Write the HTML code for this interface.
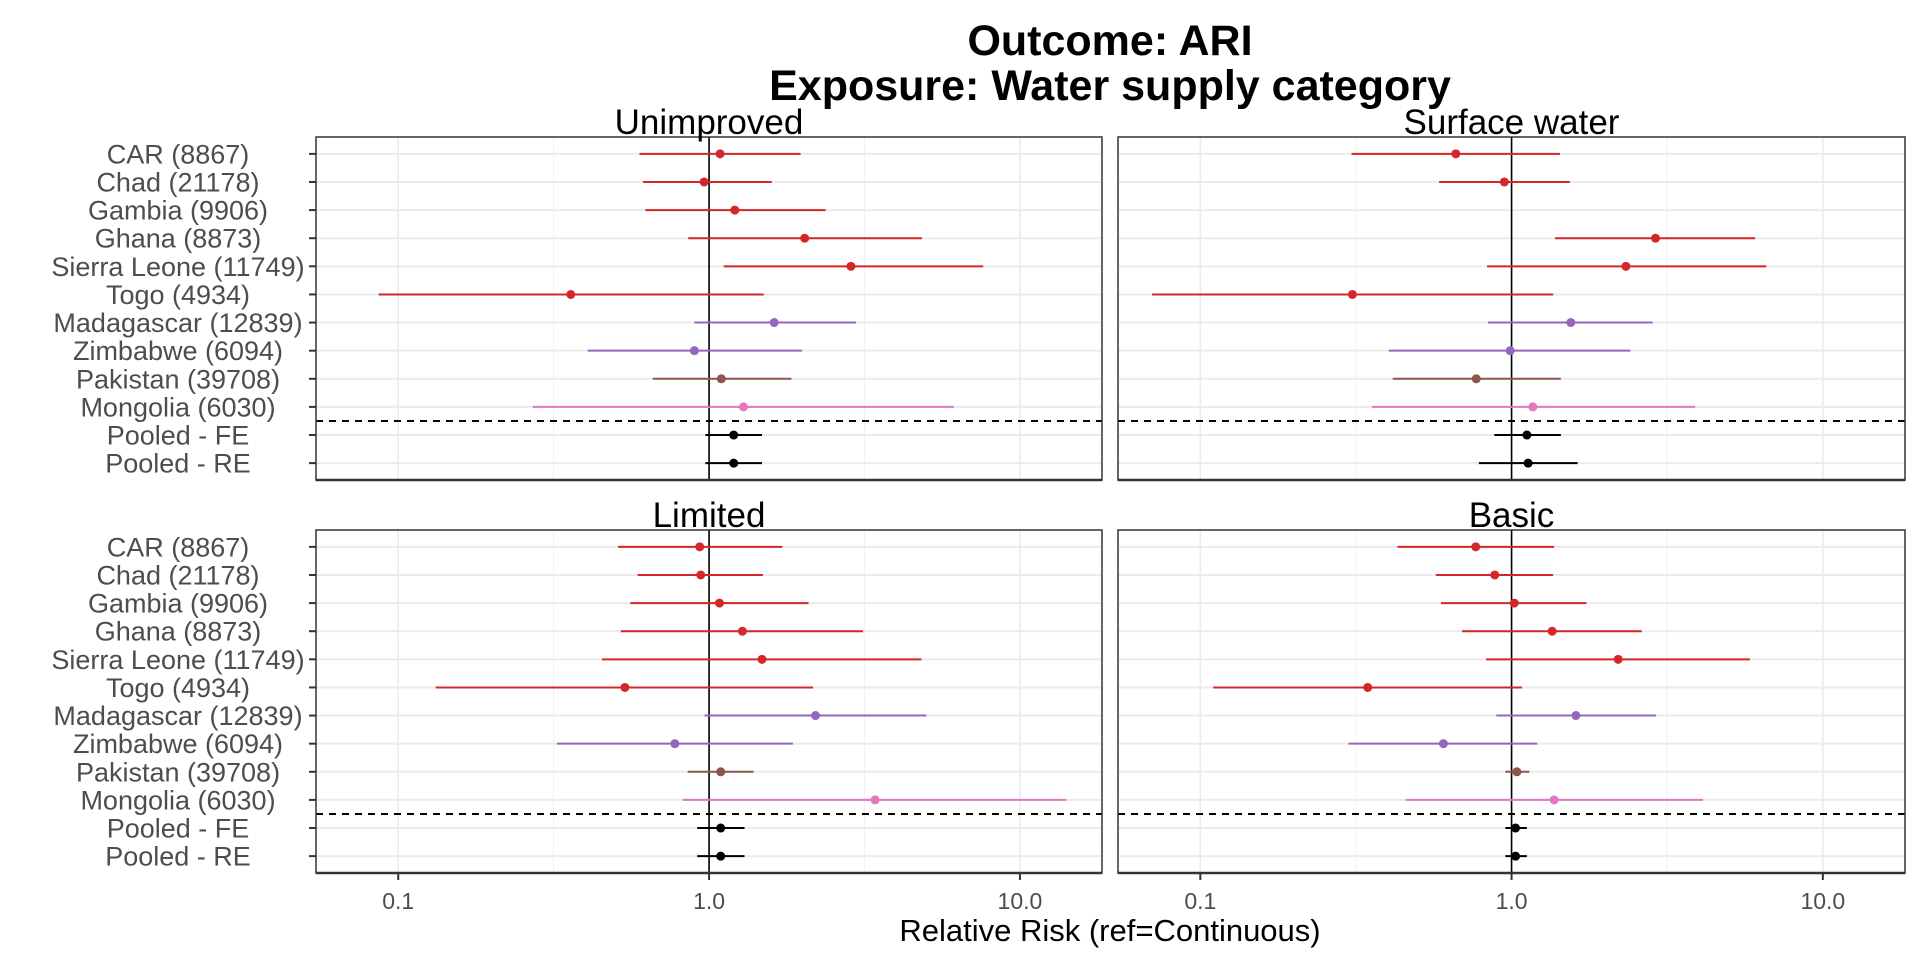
<!DOCTYPE html>
<html><head><meta charset="utf-8"><style>
html,body{margin:0;padding:0;background:#fff;}
svg{display:block;font-family:"Liberation Sans",Arial,sans-serif;}
</style></head><body>
<svg id="chart" width="1920" height="960" viewBox="0 0 1920 960">
<rect width="1920" height="960" fill="#fff"/>
<text x="1110" y="55" text-anchor="middle" font-size="43" font-weight="bold" fill="#000">Outcome: ARI</text>
<text x="1110" y="100" text-anchor="middle" font-size="43" font-weight="bold" fill="#000">Exposure: Water supply category</text>
<text x="1110" y="941" text-anchor="middle" font-size="31" fill="#000">Relative Risk (ref=Continuous)</text>
<g id="plots"></g>
</svg>
<script>
const categories = ["CAR (8867)","Chad (21178)","Gambia (9906)","Ghana (8873)","Sierra Leone (11749)","Togo (4934)","Madagascar (12839)","Zimbabwe (6094)","Pakistan (39708)","Mongolia (6030)","Pooled - FE","Pooled - RE"];
const rowGroups = ["red","red","red","red","red","red","purple","purple","brown","pink","black","black"];
const panelNames = ["Unimproved","Surface water","Limited","Basic"];
const xTicks = [0.1, 1, 10];
const xTickLabels = ["0.1","1.0","10.0"];
const xMinor = [0.0316, 0.316, 3.16];

const unimprovedEst = [1.085,0.964,1.21,2.03,2.86,0.359,1.62,0.897,1.095,1.29,1.20,1.20];
const unimprovedLo  = [0.597,0.613,0.624,0.857,1.115,0.0865,0.897,0.407,0.659,0.271,0.973,0.973];
const unimprovedHi  = [1.97,1.59,2.37,4.84,7.62,1.50,2.97,1.99,1.84,6.13,1.48,1.48];

const surfaceEst = [0.662,0.948,null,2.90,2.33,0.308,1.55,0.99,0.77,1.17,1.12,1.13];
const surfaceLo  = [0.306,0.585,null,1.38,0.834,0.070,0.84,0.403,0.415,0.356,0.88,0.785];
const surfaceHi  = [1.43,1.54,null,6.06,6.58,1.36,2.84,2.41,1.44,3.89,1.44,1.63];

const limitedEst = [0.933,0.94,1.08,1.28,1.48,0.536,2.20,0.776,1.09,3.42,1.09,1.09];
const limitedLo  = [0.51,0.589,0.558,0.52,0.452,0.132,0.967,0.324,0.853,0.824,0.916,0.916];
const limitedHi  = [1.72,1.49,2.09,3.13,4.82,2.16,5.0,1.86,1.39,14.1,1.30,1.30];

const basicEst = [0.767,0.883,1.02,1.35,2.20,0.345,1.61,0.604,1.04,1.37,1.03,1.03];
const basicLo  = [0.43,0.571,0.593,0.693,0.828,0.110,0.893,0.299,0.955,0.457,0.955,0.955];
const basicHi  = [1.37,1.36,1.74,2.62,5.83,1.08,2.91,1.21,1.14,4.12,1.12,1.12];

const panelData = [
  [unimprovedLo, unimprovedEst, unimprovedHi],
  [surfaceLo, surfaceEst, surfaceHi],
  [limitedLo, limitedEst, limitedHi],
  [basicLo, basicEst, basicHi]
];

const colorMap = {red:"#d62728", purple:"#9467bd", brown:"#8c564b", pink:"#e377c2", black:"#000000"};
const NS = "http://www.w3.org/2000/svg";
const root = document.getElementById("plots");
const LOGMIN = -1.2645, LOGMAX = 1.264;
const boxes = [
  {x0:316, x1:1102, y0:137, y1:480},
  {x0:1118, x1:1905, y0:137, y1:480},
  {x0:316, x1:1102, y0:530, y1:873},
  {x0:1118, x1:1905, y0:530, y1:873}
];
function mk(tag, attrs, parent){
  const e = document.createElementNS(NS, tag);
  for (const k in attrs) e.setAttribute(k, attrs[k]);
  (parent||root).appendChild(e);
  return e;
}
function xScale(b, v){ return b.x0 + (Math.log10(v) - LOGMIN) / (LOGMAX - LOGMIN) * (b.x1 - b.x0); }
function yScale(b, i){ const step = (b.y1 - b.y0) / (categories.length - 1 + 1.2); return b.y0 + (0.6 + i) * step; }

boxes.forEach((b, p) => {
  const g = mk("g", {});
  
  
  mk("rect", {x:b.x0, y:b.y0, width:b.x1-b.x0, height:b.y1-b.y0, fill:"#fff"}, g);
  xMinor.forEach(v => {
    const x = xScale(b, v);
    if (x > b.x0 && x < b.x1) mk("line", {x1:x, x2:x, y1:b.y0, y2:b.y1, stroke:"#f0f0f0", "stroke-width":1}, g);
  });
  xTicks.forEach(v => {
    const x = xScale(b, v);
    mk("line", {x1:x, x2:x, y1:b.y0, y2:b.y1, stroke:"#ebebeb", "stroke-width":1.6}, g);
  });
  categories.forEach((c, i) => {
    const y = yScale(b, i);
    mk("line", {x1:b.x0, x2:b.x1, y1:y, y2:y, stroke:"#ebebeb", "stroke-width":2}, g);
  });
  const x1 = xScale(b, 1);
  const ref = mk("line", {x1:x1, x2:x1, y1:b.y0, y2:b.y1, stroke:"#000", "stroke-width":1.6}, g);
  
  
  const yd = (yScale(b, 9) + yScale(b, 10)) / 2;
  const dash = mk("line", {x1:b.x0, x2:b.x1, y1:yd, y2:yd, stroke:"#000", "stroke-width":2, "stroke-dasharray":"7,6"}, g);
  
  
  const [lo, est, hi] = panelData[p];
  categories.forEach((c, i) => {
    if (est[i] == null) return;
    const y = yScale(b, i);
    const col = colorMap[rowGroups[i]];
    const ci = mk("line", {x1:xScale(b, lo[i]), x2:xScale(b, hi[i]), y1:y, y2:y, stroke:col, "stroke-width":2}, g);
    
    
    const pt = mk("circle", {cx:xScale(b, est[i]), cy:y, r:4.5, fill:col}, g);
    
    
  });
  mk("rect", {x:b.x0, y:b.y0, width:b.x1-b.x0, height:b.y1-b.y0, fill:"none", stroke:"#333", "stroke-width":1.5}, g);
  const st = mk("text", {x:(b.x0+b.x1)/2, y:b.y0-3, "text-anchor":"middle", "font-size":35, fill:"#000"}, g);
  st.textContent = panelNames[p];
  
  
  if (p === 0 || p === 2) {
    categories.forEach((c, i) => {
      const y = yScale(b, i);
      mk("line", {x1:b.x0-7, x2:b.x0, y1:y, y2:y, stroke:"#333", "stroke-width":2}, g);
      const t = mk("text", {x:178, y:y+9.5, "text-anchor":"middle", "font-size":27, fill:"#4d4d4d"}, g);
      t.textContent = c;
      
      
    });
  }
  mk("line", {x1:b.x0, x2:b.x1, y1:b.y1, y2:b.y1, stroke:"#333", "stroke-width":2.5}, g);
  if (p >= 2) {
    xTicks.forEach((v, k) => {
      const x = xScale(b, v);
      mk("line", {x1:x, x2:x, y1:b.y1, y2:b.y1+7, stroke:"#333", "stroke-width":2}, g);
      const t = mk("text", {x:x, y:909, "text-anchor":"middle", "font-size":23, fill:"#4d4d4d"}, g);
      t.textContent = xTickLabels[k];
      
      
    });
  }
});
</script>
</body></html>
